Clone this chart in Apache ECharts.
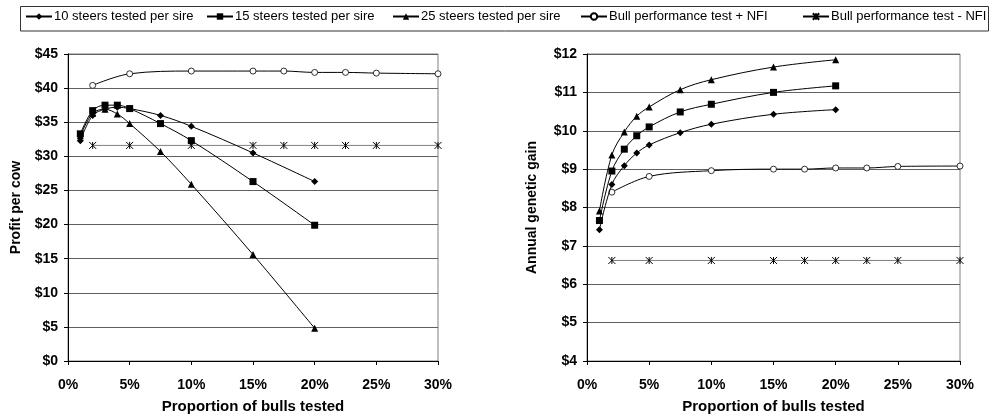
<!DOCTYPE html>
<html>
<head>
<meta charset="utf-8">
<script src="https://cdn.jsdelivr.net/npm/echarts@6/dist/echarts.min.js"></script>
<style>
html,body{margin:0;padding:0;background:#fff;}
#chart{width:991px;height:419px;}
</style>
</head>
<body>
<div id="chart"></div>
<script>
// ---- data ----
var seriesNames = ['10 steers tested per sire', '15 steers tested per sire', '25 steers tested per sire', 'Bull performance test + NFI', 'Bull performance test - NFI'];
var xSteers = [1, 2, 3, 4, 5, 7.5, 10, 15, 20];
var xBull = [2, 5, 10, 15, 17.5, 20, 22.5, 25, 30];

// Left chart: profit per cow ($)
var profit10 = [32.3, 36.0, 36.9, 37.2, 37.0, 36.0, 34.4, 30.5, 26.3];
var profit15 = [33.3, 36.7, 37.5, 37.5, 37.0, 34.8, 32.3, 26.3, 19.9];
var profit25 = [33.0, 36.3, 36.9, 36.2, 34.8, 30.7, 25.9, 15.6, 4.8];
var profitNFIplus = [40.4, 42.1, 42.5, 42.5, 42.5, 42.3, 42.3, 42.2, 42.1];
var profitNFIminus = [31.6, 31.6, 31.6, 31.6, 31.6, 31.6, 31.6, 31.6, 31.6];

// Right chart: annual genetic gain ($)
var gain10 = [7.42, 8.60, 9.09, 9.42, 9.63, 9.95, 10.17, 10.43, 10.55];
var gain15 = [7.66, 8.95, 9.52, 9.87, 10.10, 10.49, 10.69, 11.00, 11.17];
var gain25 = [7.91, 9.37, 9.97, 10.38, 10.62, 11.07, 11.33, 11.66, 11.85];
var gainNFIplus = [8.40, 8.81, 8.96, 9.00, 9.00, 9.03, 9.03, 9.07, 9.08];
var gainNFIminus = [6.62, 6.62, 6.62, 6.62, 6.62, 6.62, 6.62, 6.62, 6.62];

var xTicks = [0, 5, 10, 15, 20, 25, 30];
var leftYTicks = [0, 5, 10, 15, 20, 25, 30, 35, 40, 45];
var rightYTicks = [4, 5, 6, 7, 8, 9, 10, 11, 12];

var xTitle = 'Proportion of bulls tested';
var leftYTitle = 'Profit per cow';
var rightYTitle = 'Annual genetic gain';

// ---- build ----
function pairs(xs, ys) { return xs.map(function (x, i) { return [x, ys[i]]; }); }

var FONT = '"Liberation Sans", Arial, sans-serif';
var asterisk = 'path://M0,0L10,10M10,0L0,10M5,0L5,10';

var styles = [
  { symbol: 'diamond', size: 7, line: '#000', item: { color: '#000' } },
  { symbol: 'rect', size: 7, line: '#000', item: { color: '#000' } },
  { symbol: 'triangle', size: 7, line: '#000', item: { color: '#000' } },
  { symbol: 'circle', size: 6, line: '#000', item: { color: '#fff', borderColor: '#000', borderWidth: 0.8 } },
  { symbol: asterisk, size: 7, line: '#808080', item: { color: 'none', borderColor: '#000', borderWidth: 1 } }
];

var leftData = [profit10, profit15, profit25, profitNFIplus, profitNFIminus];
var rightData = [gain10, gain15, gain25, gainNFIplus, gainNFIminus];

var series = [];
[leftData, rightData].forEach(function (set, g) {
  set.forEach(function (ys, i) {
    var st = styles[i];
    var xs = i < 3 ? xSteers : xBull;
    series.push({
      name: seriesNames[i],
      type: 'line',
      xAxisIndex: g,
      yAxisIndex: g,
      data: pairs(xs, ys),
      smooth: i === 4 ? false : 0.35,
      symbol: st.symbol,
      symbolSize: st.size,
      showAllSymbol: true,
      lineStyle: { color: st.line, width: 1 },
      itemStyle: st.item,
      emphasis: { disabled: true },
      animation: false,
      z: 10 - i
    });
  });
});

function xAxis(g) {
  return {
    type: 'value', gridIndex: g, min: 0, max: 30, interval: 5,
    name: xTitle, nameLocation: 'middle', nameGap: 38,
    nameTextStyle: { fontFamily: FONT, fontWeight: 'bold', fontSize: 15, color: '#000' },
    axisLine: { show: true, lineStyle: { color: '#000', width: 1 } },
    axisTick: { show: true, inside: false, length: 4, lineStyle: { color: '#000' } },
    axisLabel: { formatter: '{value}%', margin: 17, fontFamily: FONT, fontWeight: 'bold', fontSize: 14, color: '#000' },
    splitLine: { show: false }
  };
}
function yAxis(g, min, max, title, gap) {
  return {
    type: 'value', gridIndex: g, min: min, max: max, interval: (g === 0 ? 5 : 1),
    name: title, nameLocation: 'middle', nameGap: gap, nameRotate: 90,
    nameTextStyle: { fontFamily: FONT, fontWeight: 'bold', fontSize: 14, color: '#000' },
    axisLine: { show: true, lineStyle: { color: '#000', width: 1 } },
    axisTick: { show: true, inside: false, length: 4, lineStyle: { color: '#000' } },
    axisLabel: { formatter: '${value}', margin: 10, fontFamily: FONT, fontWeight: 'bold', fontSize: 14, color: '#000' },
    splitLine: { show: true, lineStyle: { color: '#606060', width: 1 } }
  };
}

var legendPos = [25, 206, 392, 580, 802];
var legends = seriesNames.map(function (n, i) {
  return {
    data: [n], left: legendPos[i], top: 10, padding: 0,
    itemWidth: 26, itemHeight: 8, itemGap: 0,
    lineStyle: { color: '#000' },
    textStyle: { fontFamily: FONT, fontSize: 13, color: '#000', padding: [0, 0, 0, -3] },
    selectedMode: false
  };
});

var option = {
  backgroundColor: '#fff',
  animation: false,
  grid: [
    { left: 68, top: 54, width: 370, height: 310, show: true, borderColor: '#808080', borderWidth: 1, containLabel: false },
    { left: 587, top: 54, width: 373, height: 310, show: true, borderColor: '#808080', borderWidth: 1, containLabel: false }
  ],
  xAxis: [xAxis(0), xAxis(1)],
  yAxis: [yAxis(0, 0, 45, leftYTitle, 45), yAxis(1, 4, 12, rightYTitle, 48)],
  legend: legends,
  graphic: [{
    type: 'rect', shape: { x: 20.5, y: 6.5, width: 968, height: 24.5 },
    style: { fill: 'none', stroke: '#333', lineWidth: 1 }, silent: true, z: -1
  }],
  series: series
};

var chart = echarts.init(document.getElementById('chart'), null, { renderer: 'canvas' });
chart.setOption(option);
</script>
</body>
</html>
